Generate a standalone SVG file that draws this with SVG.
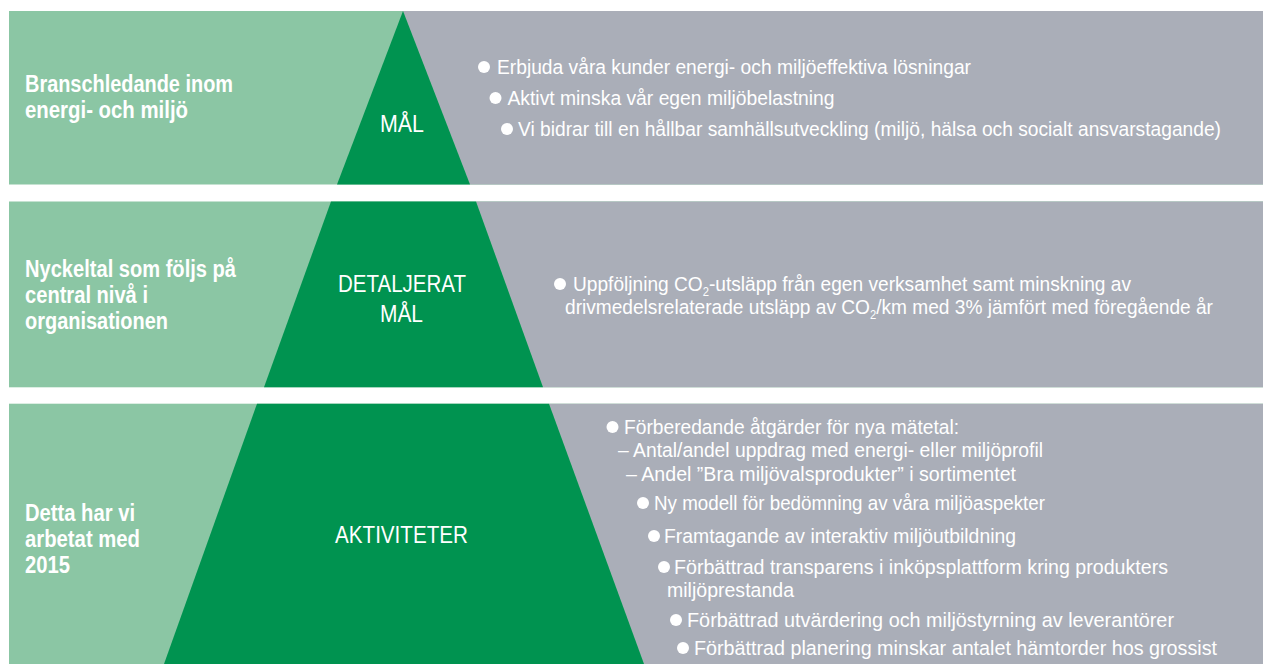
<svg xmlns="http://www.w3.org/2000/svg" width="1263" height="664" viewBox="0 0 1263 664">
<style>
.light{fill:#8BC6A4}
.dark{fill:#009350}
.grey{fill:#AAAEB8}
text{font-family:"Liberation Sans Narrow","Liberation Sans",Arial,sans-serif;fill:#fff}
.lbl{font-weight:bold;font-size:23.5px}
.ctr{font-size:24.5px}
.txt{font-size:20.5px}
.sub{font-size:12px}
.dot{fill:#fff}
</style>
<rect width="1263" height="664" fill="#fff"/>
<g id="band-1">
<rect class="light" x="9" y="11" width="1254" height="173.5"/>
<polygon class="grey" points="403,11 1263,11 1263,184.5 470,184.5"/>
<polygon class="dark" points="403,11 470,184.5 337,184.5"/>
<text class="lbl" x="25" y="92" textLength="208" lengthAdjust="spacingAndGlyphs">Branschledande inom</text>
<text class="lbl" x="25" y="118" textLength="163" lengthAdjust="spacingAndGlyphs">energi- och miljö</text>
<text class="ctr" x="380" y="132" textLength="44" lengthAdjust="spacingAndGlyphs">MÅL</text>
<circle class="dot" cx="484" cy="67" r="6"/>
<text class="txt" x="497" y="74" textLength="474" lengthAdjust="spacingAndGlyphs">Erbjuda våra kunder energi- och miljöeffektiva lösningar</text>
<circle class="dot" cx="495.5" cy="98" r="6"/>
<text class="txt" x="507.5" y="105" textLength="327" lengthAdjust="spacingAndGlyphs">Aktivt minska vår egen miljöbelastning</text>
<circle class="dot" cx="507" cy="129" r="6"/>
<text class="txt" x="518" y="136" textLength="703" lengthAdjust="spacingAndGlyphs">Vi bidrar till en hållbar samhällsutveckling (miljö, hälsa och socialt ansvarstagande)</text>
</g>
<g id="band-2">
<rect class="light" x="9" y="201.5" width="1254" height="185.8"/>
<polygon class="grey" points="476,201.5 1263,201.5 1263,387.3 543,387.3"/>
<polygon class="dark" points="331,201.5 476,201.5 543,387.3 264,387.3"/>
<text class="lbl" x="25" y="277" textLength="211" lengthAdjust="spacingAndGlyphs">Nyckeltal som följs på</text>
<text class="lbl" x="25" y="303" textLength="123" lengthAdjust="spacingAndGlyphs">central nivå i</text>
<text class="lbl" x="25" y="329" textLength="143" lengthAdjust="spacingAndGlyphs">organisationen</text>
<text class="ctr" x="338" y="292" textLength="128" lengthAdjust="spacingAndGlyphs">DETALJERAT</text>
<text class="ctr" x="380" y="322" textLength="43" lengthAdjust="spacingAndGlyphs">MÅL</text>
<circle class="dot" cx="560" cy="284" r="6"/>
<text class="txt" x="573" y="291" textLength="558" lengthAdjust="spacingAndGlyphs">Uppföljning CO<tspan class="sub" dy="5">2</tspan><tspan dy="-5">-utsläpp från egen verksamhet samt minskning av</tspan></text>
<text class="txt" x="565" y="314" textLength="648" lengthAdjust="spacingAndGlyphs">drivmedelsrelaterade utsläpp av CO<tspan class="sub" dy="5">2</tspan><tspan dy="-5">/km med 3% jämfört med föregående år</tspan></text>
</g>
<g id="band-3">
<rect class="light" x="9" y="403.7" width="1254" height="260.3"/>
<polygon class="grey" points="549,403.7 1263,403.7 1263,664 644,664"/>
<polygon class="dark" points="257,403.7 549,403.7 644,664 164,664"/>
<text class="lbl" x="25" y="521" textLength="110" lengthAdjust="spacingAndGlyphs">Detta har vi</text>
<text class="lbl" x="25" y="547" textLength="115" lengthAdjust="spacingAndGlyphs">arbetat med</text>
<text class="lbl" x="25" y="573" textLength="45" lengthAdjust="spacingAndGlyphs">2015</text>
<text class="ctr" x="335" y="543" textLength="133" lengthAdjust="spacingAndGlyphs">AKTIVITETER</text>
<circle class="dot" cx="612.5" cy="427" r="6"/>
<text class="txt" x="624" y="434" textLength="335" lengthAdjust="spacingAndGlyphs">Förberedande åtgärder för nya mätetal:</text>
<text class="txt" x="618" y="457" textLength="425" lengthAdjust="spacingAndGlyphs">– Antal/andel uppdrag med energi- eller miljöprofil</text>
<text class="txt" x="626" y="481" textLength="390" lengthAdjust="spacingAndGlyphs">– Andel ”Bra miljövalsprodukter” i sortimentet</text>
<circle class="dot" cx="643" cy="503" r="6"/>
<text class="txt" x="654" y="510" textLength="391" lengthAdjust="spacingAndGlyphs">Ny modell för bedömning av våra miljöaspekter</text>
<circle class="dot" cx="654" cy="536" r="6"/>
<text class="txt" x="664" y="543" textLength="352" lengthAdjust="spacingAndGlyphs">Framtagande av interaktiv miljöutbildning</text>
<circle class="dot" cx="664" cy="567" r="6"/>
<text class="txt" x="674" y="574" textLength="494" lengthAdjust="spacingAndGlyphs">Förbättrad transparens i inköpsplattform kring produkters</text>
<text class="txt" x="667" y="597" textLength="127" lengthAdjust="spacingAndGlyphs">miljöprestanda</text>
<circle class="dot" cx="676" cy="620" r="6"/>
<text class="txt" x="687" y="627" textLength="487" lengthAdjust="spacingAndGlyphs">Förbättrad utvärdering och miljöstyrning av leverantörer</text>
<circle class="dot" cx="683" cy="648" r="6"/>
<text class="txt" x="694" y="655" textLength="523" lengthAdjust="spacingAndGlyphs">Förbättrad planering minskar antalet hämtorder hos grossist</text>
</g>
<g id="connectors"/>
</svg>
